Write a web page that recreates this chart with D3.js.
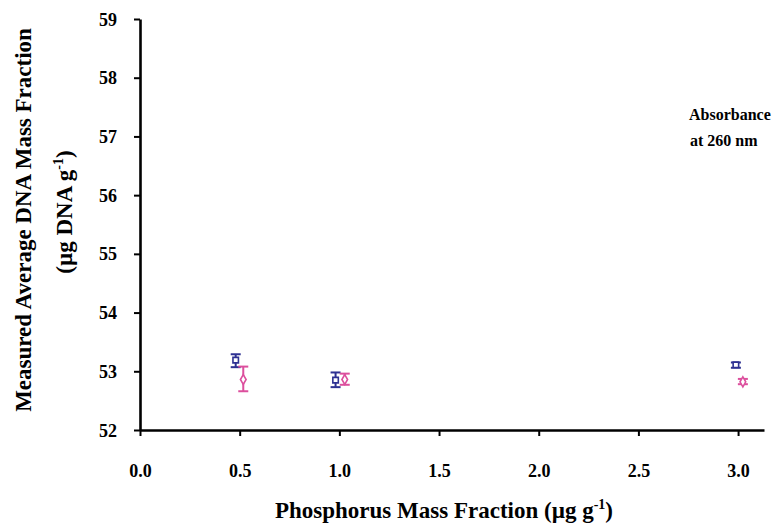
<!DOCTYPE html>
<html>
<head>
<meta charset="utf-8">
<script src="https://cdn.jsdelivr.net/npm/d3@7"></script>
<style>
  body { margin: 0; background: #fff; }
  svg { display: block; font-family: "Liberation Serif", "Times New Roman", serif; font-weight: bold; }
</style>
</head>
<body>
<svg id="chart" width="779" height="523"></svg>
<script>
// Data
const seriesNames = ["Series A", "Series B"];
const seriesColors = ["#2e3192", "#dc4f9d"];
const seriesShapes = ["square", "diamond"];
const xA = [0.48, 0.981, 2.989];
const yA = [53.19, 52.85, 53.11];
const loA = [53.07, 52.73, 53.06];
const hiA = [53.29, 52.98, 53.15];
const xB = [0.518, 1.027, 3.024];
const yB = [52.86, 52.86, 52.82];
const loB = [52.66, 52.77, 52.78];
const hiB = [53.08, 52.96, 52.87];
const xTicks = [0, 0.5, 1.0, 1.5, 2.0, 2.5, 3.0];
const yTicks = [52, 53, 54, 55, 56, 57, 58, 59];

const svg = d3.select("#chart");
const x = d3.scaleLinear().domain([0, 3.13]).range([140, 764]);
const y = d3.scaleLinear().domain([52, 59]).range([430, 19]);
const FONT = "Liberation Serif";

// Axes
const xAxis = svg.append("g").attr("transform", `translate(0,${y(52)})`)
  .call(d3.axisBottom(x).tickValues(xTicks).tickFormat(d3.format(".1f")).tickSize(6).tickSizeOuter(0));
xAxis.select(".domain").attr("stroke", "#000").attr("stroke-width", 2.6);
xAxis.selectAll(".tick line").attr("stroke", "#000").attr("stroke-width", 2);
xAxis.selectAll(".tick text").attr("y", 47).attr("dy", 0)
  .attr("font-size", 18).attr("font-family", FONT).attr("font-weight", "bold").attr("fill", "#000");

const yAxis = svg.append("g").attr("transform", `translate(${x(0)},0)`)
  .call(d3.axisLeft(y).tickValues(yTicks).tickFormat(d3.format("d")).tickSize(6).tickSizeOuter(0));
yAxis.select(".domain").attr("stroke", "#000").attr("stroke-width", 2.6);
yAxis.selectAll(".tick line").attr("stroke", "#000").attr("stroke-width", 2);
yAxis.selectAll(".tick text").attr("x", -23).attr("dy", "0.34em")
  .attr("font-size", 18).attr("font-family", FONT).attr("font-weight", "bold").attr("fill", "#000");

// Series
const series = [
  {xs: xA, ys: yA, lo: loA, hi: hiA},
  {xs: xB, ys: yB, lo: loB, hi: hiB}
];
series.forEach((s, si) => {
  const color = seriesColors[si];
  const g = svg.append("g");
  const pts = s.xs.map((xv, i) => ({x: xv, y: s.ys[i], lo: s.lo[i], hi: s.hi[i]}));
  const capW = 5;
  pts.forEach(p => {
    const cx = x(p.x);
    g.append("line").attr("x1", cx).attr("x2", cx).attr("y1", y(p.lo)).attr("y2", y(p.hi))
      .attr("stroke", color).attr("stroke-width", 2);
    [p.lo, p.hi].forEach(v => {
      g.append("line").attr("x1", cx - capW).attr("x2", cx + capW).attr("y1", y(v)).attr("y2", y(v))
        .attr("stroke", color).attr("stroke-width", 2);
    });
  });
  const sym = seriesShapes[si] === "square" ? d3.symbolSquare : d3.symbolDiamond;
  g.selectAll("path.pt").data(pts).join("path")
    .attr("class", "pt")
    .attr("transform", d => `translate(${x(d.x)},${y(d.y)})`)
    .attr("d", d3.symbol().type(sym).size(seriesShapes[si] === "square" ? 30 : 28)())
    .attr("fill", "#fff").attr("stroke", color).attr("stroke-width", 1.6);
});

// Annotation
const ann = svg.append("text").attr("font-size", 16).attr("fill", "#000");
ann.append("tspan").attr("x", 689).attr("y", 120).text("Absorbance");
ann.append("tspan").attr("x", 690).attr("y", 146).text("at 260 nm");

// X axis title
const xt = svg.append("text").attr("x", 444).attr("y", 518).attr("text-anchor", "middle")
  .attr("font-size", 23).attr("fill", "#000");
xt.append("tspan").text("Phosphorus Mass Fraction (µg g");
xt.append("tspan").attr("font-size", 14).attr("dy", -9).text("-1");
xt.append("tspan").attr("dy", 9).text(")");

// Y axis title
svg.append("text").attr("transform", "translate(31,220) rotate(-90)").attr("text-anchor", "middle")
  .attr("font-size", 23).attr("fill", "#000").text("Measured Average DNA Mass Fraction");
const yt2 = svg.append("text").attr("transform", "translate(72,212) rotate(-90)").attr("text-anchor", "middle")
  .attr("font-size", 23).attr("fill", "#000");
yt2.append("tspan").text("(µg DNA g");
yt2.append("tspan").attr("font-size", 14).attr("dy", -9).text("-1");
yt2.append("tspan").attr("dy", 9).text(")");
</script>
</body>
</html>
